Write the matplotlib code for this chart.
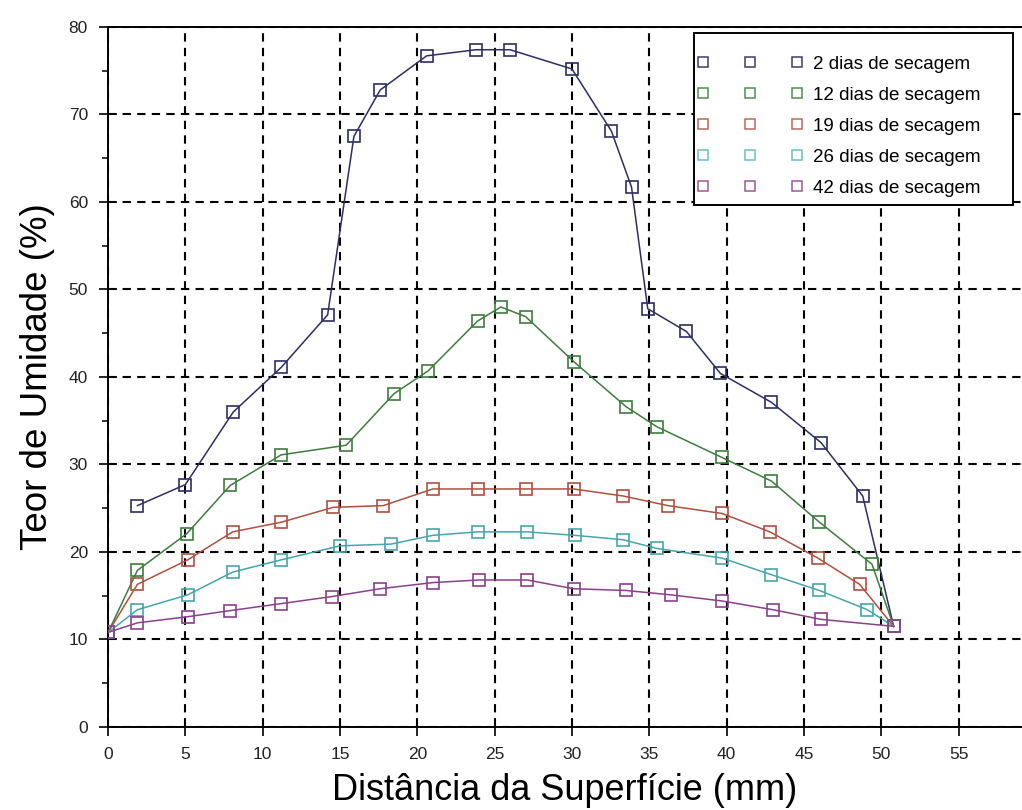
import matplotlib
matplotlib.use("Agg")
import matplotlib.pyplot as plt
from matplotlib.lines import Line2D
from matplotlib.patches import Rectangle

# ---- data ----
x_2d = [1.9, 5.0, 8.1, 11.2, 14.2, 15.9, 17.6, 20.6, 23.8, 26.0, 30.0, 32.55, 33.85, 34.9, 37.4, 39.6, 42.9, 46.1, 48.8, 50.8]
y_2d = [25.3, 27.7, 36.0, 41.1, 47.1, 67.5, 72.8, 76.7, 77.4, 77.4, 75.2, 68.1, 61.7, 47.8, 45.2, 40.4, 37.1, 32.5, 26.4, 11.5]

x_12d = [0, 1.9, 5.1, 7.9, 11.2, 15.4, 18.5, 20.7, 23.9, 25.4, 27.0, 30.15, 33.5, 35.5, 39.7, 42.9, 46.0, 49.4, 50.8]
y_12d = [10.8, 17.9, 22.1, 27.6, 31.1, 32.2, 38.1, 40.7, 46.4, 48.0, 46.9, 41.7, 36.6, 34.3, 30.8, 28.1, 23.4, 18.6, 11.5]

x_19d = [0, 1.9, 5.15, 8.06, 11.2, 14.56, 17.8, 21.0, 23.9, 27.0, 30.1, 33.3, 36.2, 39.7, 42.8, 45.9, 48.6, 50.8]
y_19d = [10.8, 16.3, 19.1, 22.3, 23.4, 25.1, 25.3, 27.2, 27.2, 27.2, 27.2, 26.4, 25.3, 24.4, 22.3, 19.3, 16.3, 11.5]

x_26d = [0, 1.9, 5.15, 8.06, 11.2, 15.0, 18.3, 21.0, 23.9, 27.1, 30.2, 33.3, 35.5, 39.7, 42.9, 46.0, 49.1, 50.8]
y_26d = [10.8, 13.4, 15.1, 17.7, 19.1, 20.7, 20.9, 21.9, 22.3, 22.3, 21.9, 21.4, 20.4, 19.3, 17.4, 15.6, 13.4, 11.5]

x_42d = [0, 1.9, 5.15, 7.9, 11.2, 14.46, 17.6, 21.0, 24.0, 27.1, 30.1, 33.5, 36.4, 39.7, 43.0, 46.1, 50.8]
y_42d = [10.8, 11.9, 12.6, 13.3, 14.1, 14.9, 15.8, 16.5, 16.8, 16.8, 15.8, 15.6, 15.1, 14.4, 13.4, 12.3, 11.5]

labels = ["2 dias de secagem", "12 dias de secagem", "19 dias de secagem",
          "26 dias de secagem", "42 dias de secagem"]
x_ticks = [0, 5, 10, 15, 20, 25, 30, 35, 40, 45, 50, 55]
y_ticks = [0, 10, 20, 30, 40, 50, 60, 70, 80]
y_minor = [5, 15, 25, 35, 45, 55, 65, 75]

series = [(x_2d, y_2d), (x_12d, y_12d), (x_19d, y_19d), (x_26d, y_26d), (x_42d, y_42d)]
colors = ["#2e2e66", "#3d7d3d", "#b0503f", "#45a5ad", "#8c3f8c"]
legend_colors = ["#3c3c70", "#4f8f4f", "#b86a5c", "#6cc0c6", "#9a5a9a"]

plt.rcParams['font.family'] = ['Liberation Sans', 'DejaVu Sans']

fig = plt.figure(figsize=(10.22, 8.10), dpi=100)
ax = fig.add_axes([0.1057, 0.1025, 0.8943, 0.8642])

for (xs, ys), c in zip(series, colors):
    ax.plot(xs, ys, color=c, lw=1.1, marker='s', markersize=9,
            markerfacecolor='none', markeredgecolor=c, markeredgewidth=1.2, zorder=3)

ax.set_xlim(0, 59.1)
ax.set_ylim(0, 80)
ax.set_xticks(x_ticks)
ax.set_yticks(y_ticks)
ax.set_yticks(y_minor, minor=True)

ax.grid(True, which='major', color='black', linestyle=(0, (4, 3)), linewidth=1.5, zorder=1)
ax.set_axisbelow(True)

ax.spines['right'].set_visible(False)
for s in ['left', 'bottom', 'top']:
    ax.spines[s].set_linewidth(1.4)

ax.tick_params(axis='both', which='major', direction='inout', length=13, width=1.2,
               labelsize=12.5, pad=8, labelcolor='#222222')
ax.tick_params(axis='y', which='minor', direction='out', length=4.5, width=1.1)
ax.tick_params(axis='x', which='major', top=False)

ax.set_xlabel("Distância da Superfície (mm)", fontsize=26, labelpad=8)
ax.set_ylabel("Teor de Umidade (%)", fontsize=26.5, labelpad=10)

# legend box
fig.patches.append(Rectangle((694 / 1022, 1 - 205 / 810), 319 / 1022, 172 / 810,
                             transform=fig.transFigure, facecolor='white',
                             edgecolor='black', linewidth=1.4, zorder=5))

handles = [Line2D([], [], linestyle='none', marker='s', markersize=7.5,
                  markerfacecolor='none', markeredgecolor=c, markeredgewidth=1.1)
           for c in legend_colors]
leg = fig.legend(handles, labels, loc='upper left', bbox_to_anchor=(0.6824, 0.9312),
                 bbox_transform=fig.transFigure, numpoints=3, handlelength=5.62,
                 handletextpad=0.55, fontsize=13.5, frameon=False, borderpad=0,
                 labelspacing=0.74, borderaxespad=0)
leg.set_zorder(6)

fig.savefig("out.png", dpi=100)
